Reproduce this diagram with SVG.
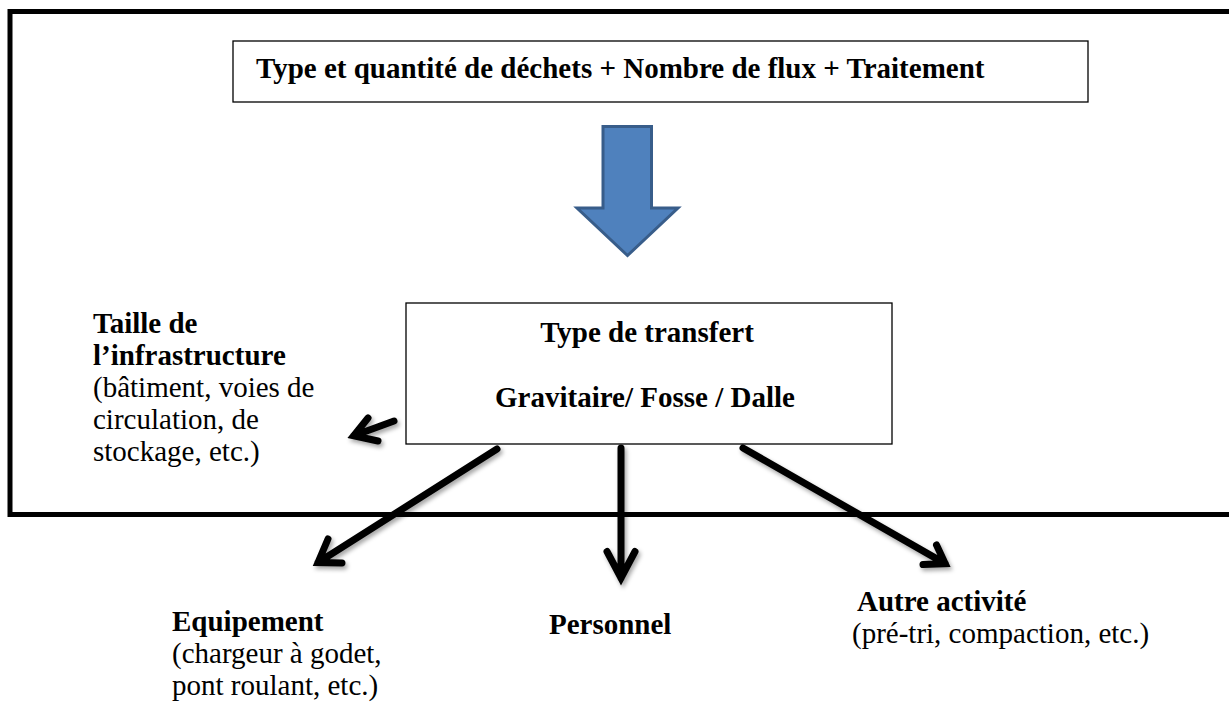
<svg xmlns="http://www.w3.org/2000/svg" width="1229" height="704" viewBox="0 0 1229 704">
  <style>
    .t { font-family: "Liberation Serif", "Times New Roman", serif; font-size: 29px; fill: #000; }
    .b { font-weight: bold; }
    .box { fill: #fff; stroke: #000; stroke-width: 1.3; }
    .arr { fill: none; stroke: #000; stroke-width: 7; stroke-linecap: round; stroke-linejoin: miter; stroke-miterlimit: 10; }
  </style>
  <defs>
    <filter id="sh" x="-20%" y="-20%" width="140%" height="140%">
      <feDropShadow dx="2" dy="3" stdDeviation="2" flood-color="#000" flood-opacity="0.35"/>
    </filter>
  </defs>
  <rect width="1229" height="704" fill="#fff"/>

  <g id="frame">
    <path d="M1240,11.5 L10,11.5 L10,514.5 L1240,514.5" fill="none" stroke="#000" stroke-width="5"/>
  </g>

  <g id="top-box">
    <rect class="box" x="233" y="41" width="855" height="61"/>
    <text class="t b" x="256" y="78">Type et quantité de déchets + Nombre de flux + Traitement</text>
  </g>

  <g id="big-arrow">
    <polygon points="603,126.5 651.5,126.5 651.5,208 678,208 627.5,255.5 577,208 603,208" fill="#4F81BD" stroke="#385D8A" stroke-width="3" stroke-linejoin="miter"/>
  </g>

  <g id="transfer-box">
    <rect class="box" x="406" y="303" width="486" height="141"/>
    <text class="t b" x="647" y="342" text-anchor="middle">Type de transfert</text>
    <text class="t b" x="645" y="407" text-anchor="middle">Gravitaire/ Fosse / Dalle</text>
  </g>

  <g id="connectors" filter="url(#sh)">
    <path class="arr" d="M394,421 L353.7,435.7 M368,418 L353.7,435.7 L378,441"/>
    <path class="arr" d="M497,449 L318,562.5 M342,563 L318,562.5 L328,539"/>
    <path class="arr" d="M621,448 L621,578 M607,551.5 L621,578 L635,551.5"/>
    <path class="arr" d="M743,448 L945.2,563.6 M923,564.5 L945.2,563.6 L936.5,545"/>
  </g>

  <g id="infrastructure">
    <text class="t b" x="93" y="333">Taille de</text>
    <text class="t b" x="93" y="365">l’infrastructure</text>
    <text class="t" x="93" y="397">(bâtiment, voies de</text>
    <text class="t" x="93" y="429">circulation, de</text>
    <text class="t" x="93" y="461">stockage, etc.)</text>
  </g>

  <g id="equipement">
    <text class="t b" x="172" y="631">Equipement</text>
    <text class="t" x="172" y="663">(chargeur à godet,</text>
    <text class="t" x="172" y="695">pont roulant, etc.)</text>
  </g>

  <g id="personnel">
    <text class="t b" x="549" y="634">Personnel</text>
  </g>

  <g id="autre">
    <text class="t b" x="857" y="611">Autre activité</text>
    <text class="t" x="852" y="643">(pré-tri, compaction, etc.)</text>
  </g>
</svg>
